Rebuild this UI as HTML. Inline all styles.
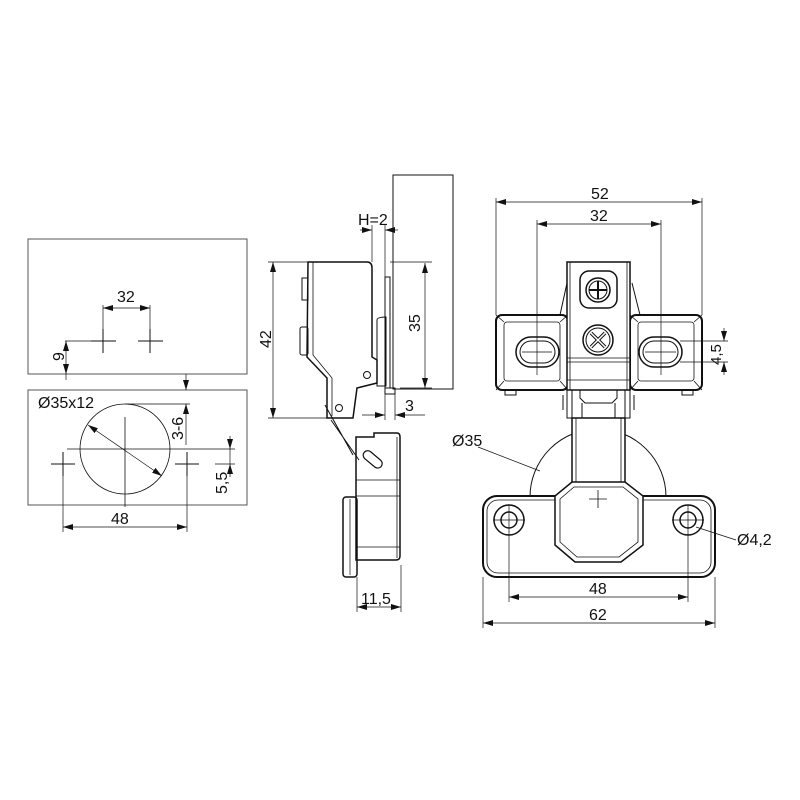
<!DOCTYPE html>
<html><head><meta charset="utf-8"><style>
html,body{margin:0;padding:0;background:#fff}
svg{display:block}
text{font-family:"Liberation Sans",sans-serif;font-size:16px;fill:#111}
</style></head><body>
<svg width="800" height="800" viewBox="0 0 800 800" xmlns="http://www.w3.org/2000/svg">
<defs>
<marker id="a" viewBox="0 0 10 6" refX="10" refY="3" markerWidth="10" markerHeight="6" orient="auto-start-reverse" markerUnits="userSpaceOnUse"><path d="M0,0L10,3L0,6z" fill="#111"/></marker>
</defs>
<g fill="none" stroke="#111" stroke-width="1">
<rect x="28" y="239" width="219" height="135" stroke="#555"/>
<rect x="28" y="390" width="219" height="115" stroke="#555"/>
<path d="M103,329V353M91,341H116M150,329V353M138,341H163" />
<path d="M103,305V329M150,305V329" stroke-width="0.7"/>
<line x1="103" y1="308" x2="150" y2="308" marker-start="url(#a)" marker-end="url(#a)" stroke-width="0.7"/>
<path d="M65,341H91" stroke-width="0.7"/>
<line x1="66" y1="341" x2="66" y2="374" marker-start="url(#a)" marker-end="url(#a)" stroke-width="0.7"/>
<path d="M66,374V380" stroke-width="0.7"/>
<circle cx="125" cy="449" r="45" stroke-width="0.8"/>
<path d="M125,417V507M67,449H235" stroke-width="0.8"/>
<path d="M51,464H75M63,452V476M175,464H199M187,452V476"/>
<path d="M63,476V532M187,476V532" stroke-width="0.7"/>
<line x1="63" y1="527" x2="187" y2="527" marker-start="url(#a)" marker-end="url(#a)" stroke-width="0.7"/>
<line x1="88" y1="425" x2="162" y2="476" marker-start="url(#a)" marker-end="url(#a)" stroke-width="0.7"/>
<path d="M125,404H190" stroke-width="0.7"/>
<line x1="186" y1="374" x2="186" y2="390" marker-end="url(#a)" stroke-width="0.7"/>
<line x1="186" y1="445" x2="186" y2="404" marker-end="url(#a)" stroke-width="0.7"/>
<path d="M235,464H215" stroke-width="0.7"/>
<line x1="230" y1="436" x2="230" y2="449" marker-end="url(#a)" stroke-width="0.7"/>
<line x1="230" y1="477" x2="230" y2="464" marker-end="url(#a)" stroke-width="0.7"/>
<path d="M230,449V464" stroke-width="0.7"/>

<rect x="393" y="175" width="60" height="214"/>
<path d="M308,262H367Q372,262 372,268V357L377,360V383L357,388L353,418H327V378L307,357Z" stroke-width="1.5"/>
<path d="M313,262V355L332,378V416" stroke-width="0.8"/>
<rect x="385" y="277" width="5" height="111"/>
<path d="M377,320Q377,317 386,317V386H377Z"/>
<rect x="302" y="278" width="6" height="22"/>
<rect x="300" y="327" width="8" height="28" rx="2"/>
<rect x="385" y="388" width="10" height="6"/>
<circle cx="367" cy="375" r="3.5"/>
<circle cx="339" cy="408" r="3.5"/>
<path d="M325,405L353,455M331,420L359,460" stroke-width="1"/>
<path d="M356,437H374V433H397Q400,433 400,437V556Q400,560 396,560H356Z" stroke-width="1.5"/>
<path d="M356,480H400M356,496H400M356,547H400M397,437V558" stroke-width="0.8"/>
<rect x="343" y="497" width="14" height="80" rx="3" stroke-width="1.5"/>
<path d="M350,499V575" stroke-width="0.7"/>
<rect x="362" y="455" width="22" height="9" rx="4.5" transform="rotate(40 373 459)" stroke-width="1.2"/>
<path d="M357,577V612M401,565V612" stroke-width="0.7"/>
<line x1="357" y1="607" x2="401" y2="607" marker-start="url(#a)" marker-end="url(#a)" stroke-width="0.7"/>
<path d="M268,262H308M268,418H327" stroke-width="0.7"/>
<line x1="273" y1="262" x2="273" y2="418" marker-start="url(#a)" marker-end="url(#a)" stroke-width="0.7"/>
<path d="M390,262H432M400,388H432" stroke-width="0.7"/>
<line x1="425" y1="263" x2="425" y2="388" marker-start="url(#a)" marker-end="url(#a)" stroke-width="0.7"/>
<path d="M372,225V262M385,225V277" stroke-width="0.7"/>
<line x1="360" y1="230" x2="372" y2="230" marker-end="url(#a)" stroke-width="0.7"/>
<line x1="398" y1="230" x2="385" y2="230" marker-end="url(#a)" stroke-width="0.7"/>
<path d="M385,394V420M395,394V420" stroke-width="0.7"/>
<line x1="362" y1="415" x2="385" y2="415" marker-end="url(#a)" stroke-width="0.7"/>
<line x1="425" y1="415" x2="395" y2="415" marker-end="url(#a)" stroke-width="0.7"/>

<path d="M496,198V315M702,198V315M537,220V375M661,220V375" stroke-width="0.7"/>
<line x1="496" y1="202" x2="702" y2="202" marker-start="url(#a)" marker-end="url(#a)" stroke-width="0.7"/>
<line x1="537" y1="224" x2="661" y2="224" marker-start="url(#a)" marker-end="url(#a)" stroke-width="0.7"/>
<path d="M530,497A68,68 0 0 1 666,497" stroke-width="1"/>
<path d="M560,315L567,283M640,315L632,283" stroke-width="1"/>
<rect x="496" y="315" width="72" height="75" rx="6" stroke-width="2"/>
<rect x="504" y="322" width="56" height="59" rx="3" stroke-width="0.8"/>
<path d="M496,315L504,322M568,315L560,322M496,390L504,381M568,390L560,381" stroke-width="0.8"/>
<rect x="630" y="315" width="72" height="75" rx="6" stroke-width="2"/>
<rect x="638" y="322" width="56" height="59" rx="3" stroke-width="0.8"/>
<path d="M630,315L638,322M702,315L694,322M630,390L638,381M702,390L694,381" stroke-width="0.8"/>
<rect x="505" y="390" width="11" height="5"/><rect x="682" y="390" width="11" height="5"/>
<rect x="516" y="337" width="43" height="30" rx="15" stroke-width="1.5"/>
<rect x="520" y="341" width="35" height="22" rx="11"/>
<rect x="639" y="337" width="43" height="30" rx="15" stroke-width="1.5"/>
<rect x="643" y="341" width="35" height="22" rx="11"/>
<path d="M522,352H552M645,352H676" stroke-width="0.7"/>
<path d="M680,341H728M680,362H728" stroke-width="0.7"/>
<line x1="724" y1="328" x2="724" y2="341" marker-end="url(#a)" stroke-width="0.7"/>
<line x1="724" y1="375" x2="724" y2="362" marker-end="url(#a)" stroke-width="0.7"/>
<rect x="567" y="262" width="63" height="128" fill="#fff" stroke-width="1.5"/>
<path d="M570,262V390M627,262V390M567,358H630M567,362H630M567,380H630" stroke-width="0.8"/>
<rect x="580" y="271" width="37" height="37" rx="9" stroke-width="1.5"/>
<circle cx="598" cy="290" r="12" stroke-width="1.5"/>
<circle cx="598" cy="290" r="9"/>
<path d="M598,281V299M589,290H607" stroke-width="2"/>
<circle cx="598" cy="340" r="15" stroke-width="1.5"/>
<circle cx="598" cy="340" r="12"/>
<path d="M591,333L605,347M605,333L591,347" stroke-width="3.5"/>
<path d="M591,333L605,347M605,333L591,347" stroke="#fff" stroke-width="1.5"/>
<path d="M567,390V418H630V390M572,390V418M625,390V418M580,390V398L585,403H612L617,398V390M582,403V418M615,403V418" stroke-width="1"/>
<path d="M563,395V410M634,395V410" stroke-width="1"/>
<rect x="483" y="496" width="232" height="81" rx="14" fill="#fff" stroke-width="2"/>
<rect x="487" y="500" width="224" height="73" rx="11" stroke-width="0.8"/>
<rect x="572" y="418" width="53" height="66" fill="#fff" stroke-width="1.5"/>
<path d="M576,418V484M621,418V484" stroke-width="0.8"/>
<path d="M572,482H625L643,496V545L621,562H575L555,545V496Z" fill="#fff" stroke-width="1.5"/>
<path d="M574,487H623L638,499V542L619,557H577L560,542V499Z" stroke-width="0.8"/>
<path d="M598,490V508M589,499H607" stroke-width="0.8"/>
<circle cx="509" cy="520" r="15" stroke-width="1.5"/><circle cx="509" cy="520" r="8" stroke-width="1.5"/>
<circle cx="688" cy="520" r="15" stroke-width="1.5"/><circle cx="688" cy="520" r="8" stroke-width="1.5"/>
<path d="M493,520H525M672,520H704" stroke-width="0.7"/>
<path d="M509,505V602M688,505V602M483,577V628M715,577V628" stroke-width="0.7"/>
<line x1="509" y1="597" x2="688" y2="597" marker-start="url(#a)" marker-end="url(#a)" stroke-width="0.7"/>
<line x1="483" y1="623" x2="715" y2="623" marker-start="url(#a)" marker-end="url(#a)" stroke-width="0.7"/>
<path d="M478,447L540,471" stroke-width="0.7"/>
<path d="M696,527L736,540" stroke-width="0.7"/>
</g>
<text x="117" y="302">32</text>
<text x="0" y="0" transform="translate(64,361) rotate(-90)">9</text>
<text x="38" y="408">Ø35x12</text>
<text x="0" y="0" transform="translate(183,440) rotate(-90)">3-6</text>
<text x="0" y="0" transform="translate(227,494) rotate(-90)">5,5</text>
<text x="111" y="524">48</text>
<text x="358" y="225">H=2</text>
<text x="0" y="0" transform="translate(271,348) rotate(-90)">42</text>
<text x="0" y="0" transform="translate(420,332) rotate(-90)">35</text>
<text x="405" y="411">3</text>
<text x="361" y="604">11,5</text>
<text x="591" y="199">52</text>
<text x="590" y="221">32</text>
<text x="0" y="0" transform="translate(721,365) rotate(-90)" style="font-size:15px">4,5</text>
<text x="452" y="446">Ø35</text>
<text x="737" y="545">Ø4,2</text>
<text x="589" y="594">48</text>
<text x="589" y="620">62</text>
</svg>
</body></html>
